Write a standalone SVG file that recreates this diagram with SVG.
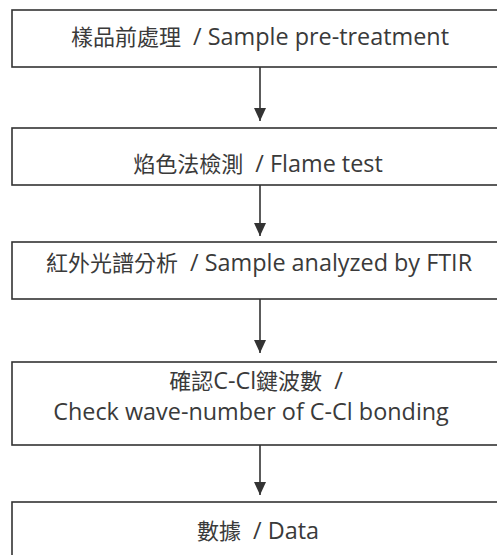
<svg xmlns="http://www.w3.org/2000/svg" width="497" height="555" viewBox="0 0 497 555">
<style>
.box{fill:#fff;stroke:#333;stroke-width:1.6}
.t{font-family:"Open Sans","Noto Sans CJK TC",sans-serif;font-size:23.4px;fill:#3a3a3a;text-anchor:middle;white-space:pre}
.k{font-family:"Noto Sans CJK TC",sans-serif;font-size:22px}
.c{stroke:#333;stroke-width:1.6;fill:none}
</style>
<defs>
<marker id="ah" markerUnits="userSpaceOnUse" markerWidth="14" markerHeight="14" viewBox="0 0 14 14" refX="13" refY="7" orient="auto">
<path d="M0,1 L13,7 L0,13 Z" fill="#333"/>
</marker>
</defs>
<rect width="497" height="555" fill="#fff"/>
<g id="connectors">
<line class="c" x1="260" y1="67" x2="260" y2="121" marker-end="url(#ah)"/>
<line class="c" x1="260" y1="185" x2="260" y2="236" marker-end="url(#ah)"/>
<line class="c" x1="260" y1="299" x2="260" y2="353" marker-end="url(#ah)"/>
<line class="c" x1="260" y1="445" x2="260" y2="495" marker-end="url(#ah)"/>
</g>
<g id="n1">
<rect class="box" x="12" y="10" width="500" height="57"/>
<text class="t" x="260" y="45"><tspan class="k">樣品前處理</tspan>  / Sample pre-treatment</text>
</g>
<g id="n2">
<rect class="box" x="12" y="128" width="500" height="57"/>
<text class="t" x="258" y="172"><tspan class="k">焰色法檢測</tspan>  / Flame test</text>
</g>
<g id="n3">
<rect class="box" x="12" y="242" width="500" height="57"/>
<text class="t" x="259" y="271"><tspan class="k">紅外光譜分析</tspan>  / Sample analyzed by FTIR</text>
</g>
<g id="n4">
<rect class="box" x="12" y="362" width="500" height="83"/>
<text class="t" x="256" y="389"><tspan class="k">確認</tspan>C-Cl<tspan class="k">鍵波數</tspan>  /</text>
<text class="t" x="251" y="420">Check wave-number of C-Cl bonding</text>
</g>
<g id="n5">
<rect class="box" x="12" y="502" width="500" height="60"/>
<text class="t" x="258" y="539"><tspan class="k">數據</tspan>  / Data</text>
</g>
</svg>
